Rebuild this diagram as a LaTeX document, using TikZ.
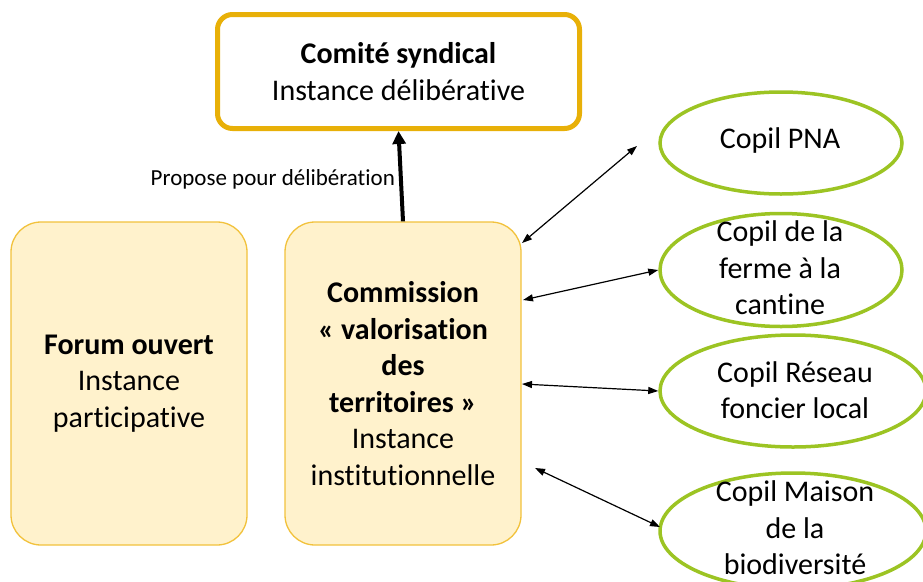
\documentclass[tikz,border=0pt]{standalone}
\usepackage{fontspec}
\setmainfont[Ligatures=NoCommon]{Carlito}
\usetikzlibrary{shapes.geometric,arrows.meta}
\definecolor{gold}{HTML}{E8B008}
\definecolor{boxfill}{HTML}{FFF2CC}
\definecolor{boxline}{HTML}{F2C23C}
\definecolor{leaf}{HTML}{9CC423}
\begin{document}
\begin{tikzpicture}[x=1pt,y=-1pt,
  every node/.style={font=\fontsize{30}{36.5}\selectfont, align=center, inner sep=0pt},
  instbox/.style={draw=boxline, fill=boxfill, line width=1.3pt, rounded corners=30pt, minimum width=236pt, minimum height=323pt},
  topbox/.style={draw=gold, line width=5pt, rounded corners=15pt, minimum width=362pt, minimum height=114pt},
  copil/.style={draw=leaf, ellipse, line width=3.5pt},
  biarrow/.style={line width=1.2pt, {Triangle[length=10pt,width=7pt]}-{Triangle[length=10pt,width=7pt]}},
  upaarrow/.style={line width=4pt, -{Triangle[length=13pt,width=13pt]}},
  lbl/.style={font=\fontsize{23}{28}\selectfont}]
\useasboundingbox (0,0) rectangle (923,581);
\fill[white] (0,0) rectangle (923,581);

\node[topbox] (comite) at (398.5,71.5) {\textbf{Comité syndical}\\Instance délibérative};
\node[instbox] (forum) at (129,383.5) {\textbf{Forum ouvert}\\Instance\\participative};
\node[instbox] (comm) at (403,383.5) {\textbf{Commission}\\\textbf{« valorisation}\\\textbf{des}\\\textbf{territoires »}\\Instance\\institutionnelle};

\node[copil, minimum width=242pt, minimum height=102pt] (e1) at (781,143) {};
\node[copil, minimum width=242pt, minimum height=113pt] (e2) at (781,270) {};
\node[copil, minimum width=266pt, minimum height=112pt] (e3) at (793,391) {};
\node[copil, minimum width=266pt, minimum height=116pt] (e4) at (793,531) {};
\node (t1) at (780,140) {Copil PNA};
\node (t2) at (780,268) {Copil de la\\ferme à la\\cantine};
\node (t3) at (795,390) {Copil Réseau\\foncier local};
\node (t4) at (795,528) {Copil Maison\\de la\\biodiversité};

\draw[upaarrow] (comm.north) -- (comite.south)
  node[lbl, pos=0.46, left, inner sep=4pt] (lab) {Propose pour délibération};

\coordinate (a1s) at (522,243);
\coordinate (a1e) at (637,146);
\coordinate (a2s) at (523,300);
\coordinate (a3s) at (522,384);
\coordinate (a4s) at (535,468);
\coordinate (a4e) at (660,527);
\draw[biarrow] (a1s) -- (a1e);
\draw[biarrow] (a2s) -- (e2.west);
\draw[biarrow] (a3s) -- (e3.west);
\draw[biarrow] (a4s) -- (a4e);
\end{tikzpicture}
\end{document}
